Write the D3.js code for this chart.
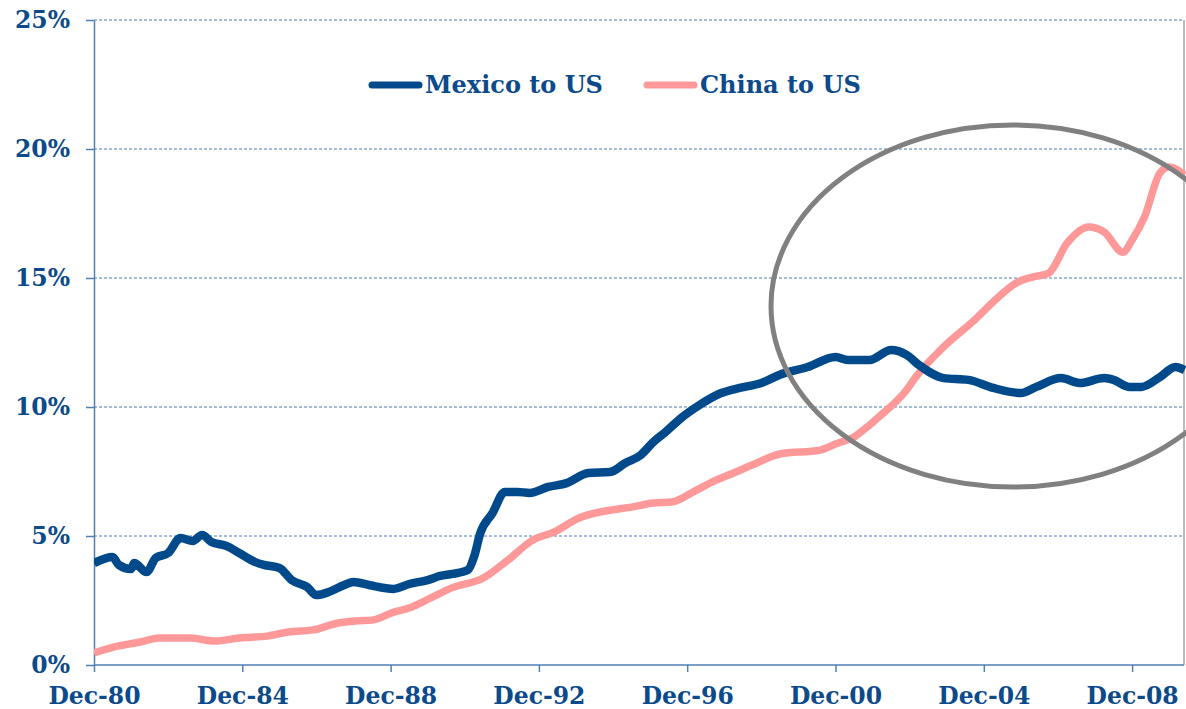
<!DOCTYPE html>
<html>
<head>
<meta charset="utf-8">
<script src="https://cdn.jsdelivr.net/npm/d3@7"></script>
<style>
  body { margin: 0; background: #fff; overflow: hidden; }
  text { font-family: "DejaVu Serif", Georgia, serif; font-weight: bold; fill: #0b4a8b; }
</style>
</head>
<body>
<script>
// months since Dec-80, share of US imports (%)
const mexicoMonths = [0, 6, 8, 12, 13, 17, 20, 24, 28, 32, 35, 38, 43, 47, 52, 55, 60, 64, 69, 72, 76, 81, 84, 89, 97, 102, 108, 112, 116, 121, 123, 125, 129, 133, 137, 141, 147, 153, 160, 167, 172, 177, 181, 185, 190, 195, 203, 209, 216, 222, 231, 240, 244, 251, 258, 263, 267, 275, 283, 291, 300, 305, 313, 319, 327, 330, 335, 339, 345, 350, 353]
const mexicoValues = [3.95, 4.19, 3.88, 3.72, 3.95, 3.6, 4.15, 4.34, 4.92, 4.81, 5.04, 4.77, 4.61, 4.34, 4.0, 3.88, 3.76, 3.29, 3.02, 2.71, 2.83, 3.1, 3.22, 3.1, 2.95, 3.14, 3.29, 3.45, 3.53, 3.68, 4.19, 5.1, 5.89, 6.71, 6.71, 6.67, 6.9, 7.05, 7.44, 7.48, 7.83, 8.14, 8.64, 9.03, 9.57, 10.0, 10.54, 10.74, 10.93, 11.25, 11.55, 11.94, 11.82, 11.82, 12.21, 12.02, 11.63, 11.12, 11.05, 10.74, 10.54, 10.78, 11.12, 10.93, 11.12, 11.05, 10.78, 10.78, 11.16, 11.55, 11.43]

const chinaMonths = [0, 8, 15, 21, 31, 39, 47, 56, 63, 71, 79, 85, 90, 97, 102, 109, 116, 126, 134, 142, 149, 157, 167, 174, 181, 187, 194, 200, 207, 213, 222, 235, 240, 246, 251, 254, 263, 266, 275, 285, 291, 299, 304, 309, 315, 322, 327, 333, 336, 340, 345, 348, 353]
const chinaValues = [0.47, 0.74, 0.89, 1.05, 1.05, 0.93, 1.05, 1.12, 1.28, 1.36, 1.63, 1.71, 1.74, 2.05, 2.21, 2.6, 3.0, 3.37, 4.07, 4.84, 5.16, 5.7, 6.0, 6.12, 6.28, 6.32, 6.71, 7.09, 7.44, 7.75, 8.18, 8.33, 8.57, 8.84, 9.3, 9.61, 10.66, 11.16, 12.33, 13.37, 14.07, 14.84, 15.04, 15.19, 16.36, 16.98, 16.78, 16.0, 16.47, 17.36, 19.07, 19.3, 18.99]

const xTickMonths = [0, 48, 96, 144, 192, 240, 288, 336]
const xTickLabels = ['Dec-80', 'Dec-84', 'Dec-88', 'Dec-92', 'Dec-96', 'Dec-00', 'Dec-04', 'Dec-08']
const yTicks = [0, 5, 10, 15, 20, 25]

const seriesNames = ['Mexico to US', 'China to US']
const seriesColors = ['#004a8c', '#ff9999']

let width = 1186, height = 709
let plotLeft = 94, plotRight = 1184, plotTop = 20, plotBottom = 665

let svg = d3.select('body').append('svg')
  .attr('width', width)
  .attr('height', height)

let x = d3.scaleLinear().domain([0, 48]).range([plotLeft, plotLeft + 148.3])
let y = d3.scaleLinear().domain([0, 25]).range([plotBottom, plotTop])

// gridlines
svg.append('g')
  .selectAll('line')
  .data(yTicks.filter(d => d > 0))
  .join('line')
    .attr('x1', plotLeft).attr('x2', plotRight)
    .attr('y1', d => y(d)).attr('y2', d => y(d))
    .attr('stroke', '#4a7ab0')
    .attr('stroke-width', 1)
    .attr('stroke-dasharray', '3,2')

// right border
svg.append('line')
  .attr('x1', plotRight).attr('x2', plotRight)
  .attr('y1', plotTop).attr('y2', plotBottom)
  .attr('stroke', '#bcbcbc').attr('stroke-width', 2)

// y axis
let yAxis = svg.append('g')
  .attr('transform', `translate(${plotLeft},0)`)
  .call(d3.axisLeft(y).tickValues(yTicks).tickFormat(d => d + '%').tickSize(8).tickPadding(16).tickSizeOuter(0))
yAxis.select('.domain').attr('stroke', '#4f7fb5').attr('stroke-width', 1.5)
yAxis.selectAll('.tick line').attr('stroke', '#4f7fb5').attr('stroke-width', 1.5)
yAxis.selectAll('text').attr('font-size', 23.5).attr('fill', '#0b4a8b')
  .style('font-family', '"DejaVu Serif", serif').style('font-weight', 'bold')

// x axis
let xAxis = svg.append('g')
  .attr('transform', `translate(0,${plotBottom})`)
  .call(d3.axisBottom(x).tickValues(xTickMonths).tickFormat((d, i) => xTickLabels[i]).tickSize(7).tickPadding(15).tickSizeOuter(0))
xAxis.select('.domain').attr('stroke', '#4f7fb5').attr('stroke-width', 1.5)
  .attr('d', `M${plotLeft},0H${plotRight}`)
xAxis.selectAll('.tick line').attr('stroke', '#4f7fb5').attr('stroke-width', 1.5)
xAxis.selectAll('text').attr('font-size', 23.5).attr('fill', '#0b4a8b')
  .style('font-family', '"DejaVu Serif", serif').style('font-weight', 'bold')

// clip for lines
svg.append('clipPath').attr('id', 'plotClip')
  .append('rect').attr('x', plotLeft).attr('y', 0).attr('width', plotRight - plotLeft + 2).attr('height', height)

let line = d3.line().x(d => x(d[0])).y(d => y(d[1])).curve(d3.curveMonotoneX)

let chinaData = chinaMonths.map((m, i) => [m, chinaValues[i]])
let mexicoData = mexicoMonths.map((m, i) => [m, mexicoValues[i]])

let lines = svg.append('g').attr('clip-path', 'url(#plotClip)')
lines.append('path')
  .datum(chinaData)
  .attr('d', line)
  .attr('fill', 'none')
  .attr('stroke', seriesColors[1])
  .attr('stroke-width', 7.5)
  .attr('stroke-linejoin', 'round')
lines.append('path')
  .datum(mexicoData)
  .attr('d', line)
  .attr('fill', 'none')
  .attr('stroke', seriesColors[0])
  .attr('stroke-width', 8.5)
  .attr('stroke-linejoin', 'round')

// highlight ellipse
svg.append('ellipse')
  .attr('cx', 1013).attr('cy', 306)
  .attr('rx', 242).attr('ry', 181)
  .attr('fill', 'none')
  .attr('stroke', '#808080')
  .attr('stroke-width', 5)

// legend
let legendX = [368, 643]
let legend = svg.append('g')
seriesNames.forEach((name, i) => {
  legend.append('line')
    .attr('x1', legendX[i] + 4).attr('x2', legendX[i] + 51)
    .attr('y1', 85).attr('y2', 85)
    .attr('stroke', seriesColors[i])
    .attr('stroke-width', 7)
    .attr('stroke-linecap', 'round')
  legend.append('text')
    .attr('x', legendX[i] + 57)
    .attr('y', 85)
    .attr('dy', '0.35em')
    .attr('font-size', 24)
    .text(name)
})
</script>
</body>
</html>
